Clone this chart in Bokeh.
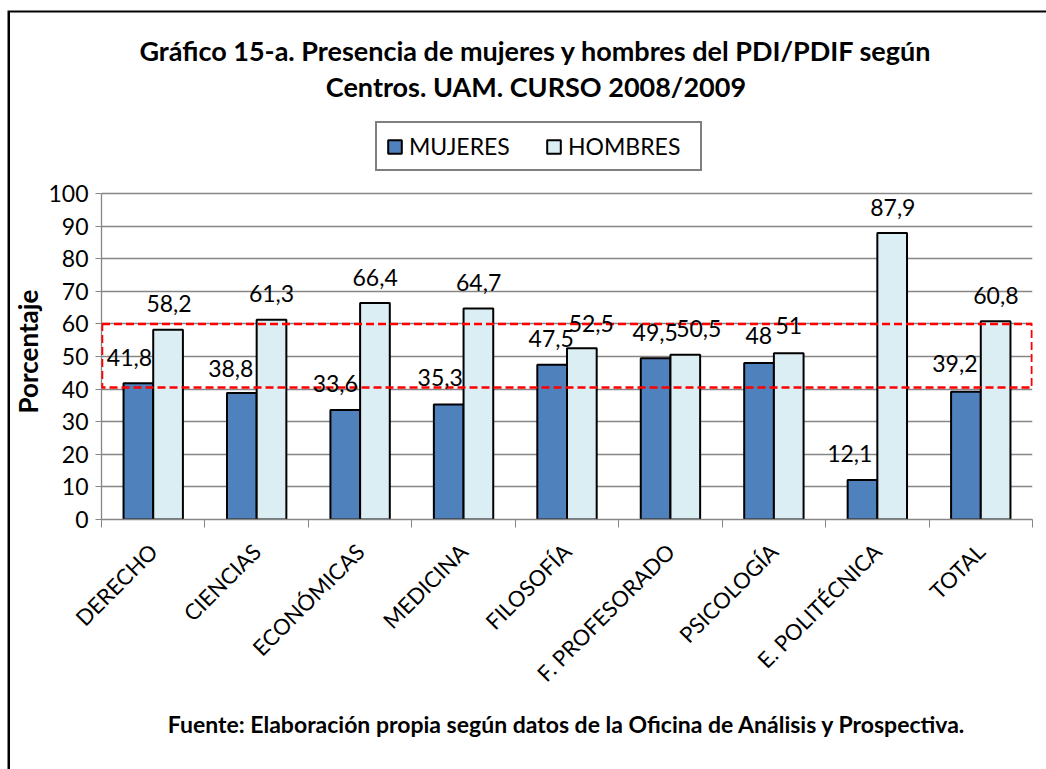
import math
from bokeh.plotting import figure
from bokeh.models import (Range1d, FixedTicker, LabelSet, Label, BoxAnnotation, Title,
                          ColumnDataSource, Legend, LegendItem)
from bokeh.core.properties import value
from bokeh.embed import file_html
from bokeh.resources import INLINE

# ---------------- data ----------------
categories = ["DERECHO", "CIENCIAS", "ECONÓMICAS", "MEDICINA", "FILOSOFÍA",
              "F. PROFESORADO", "PSICOLOGÍA", "E. POLITÉCNICA", "TOTAL"]
mujeres = [41.8, 38.8, 33.6, 35.3, 47.5, 49.5, 48, 12.1, 39.2]
hombres = [58.2, 61.3, 66.4, 64.7, 52.5, 50.5, 51, 87.9, 60.8]
y_ticks = list(range(0, 101, 10))
highlight_band = (40.5, 60.0)

title_lines = ["Gráfico 15-a. Presencia de mujeres y hombres del PDI/PDIF según",
               "Centros. UAM. CURSO 2008/2009"]
y_title = "Porcentaje"
source_note = "Fuente: Elaboración propia según datos de la Oficina de Análisis y Prospectiva."

# label placement (offsets from each bar, as hand-placed in the original)
m_lab_dx = [-0.23, -0.25, -0.24, -0.226, -0.153, -0.147, -0.146, -0.266, -0.25]
m_lab_y = [49.7, 46.3, 41.7, 43.7, 55.5, 57.5, 56.4, 20.2, 47.9]
h_lab_dx = [0.153, 0.144, 0.145, 0.146, 0.235, 0.274, 0.144, 0.15, 0.146]
h_lab_y = [66.3, 69.3, 74.3, 72.8, 60.0, 58.6, 59.5, 95.7, 68.7]

FONT = "Lato"
GREY = "#868686"
C_M = "#4f81bd"
C_H = "#dbeef4"
BAR_W = 0.287

# layout: the frame reaches the top of the canvas so that title and legend
# can live inside it; value 100 sits 326 px above the baseline (519 px down)
PLOT_PX = 326.0
FRAME_PX = 519.0
Y_TOP = 100 * FRAME_PX / PLOT_PX


def fmt(v):
    return ("%g" % v).replace(".", ",")


n = len(categories)
centers = [i + 0.5 for i in range(n)]

p = figure(width=1046, height=769, x_range=Range1d(0, n), y_range=Range1d(0, Y_TOP),
           output_backend="svg", toolbar_location=None,
           min_border_left=101, min_border_right=14, min_border_top=0,
           min_border_bottom=250,
           styles={"box-shadow": "inset 7.5px 10.5px 0 0 #fff, inset 10px 12.5px 0 0 #000"})
p.outline_line_color = None
p.background_fill_alpha = 0
p.border_fill_alpha = 0

src = ColumnDataSource(dict(
    xm=[c - BAR_W / 2 for c in centers], xh=[c + BAR_W / 2 for c in centers],
    m=mujeres, h=hombres))
r_m = p.vbar(x="xm", top="m", width=BAR_W, bottom=0, source=src,
             fill_color=C_M, line_color="black", line_width=2)
r_h = p.vbar(x="xh", top="h", width=BAR_W, bottom=0, source=src,
             fill_color=C_H, line_color="black", line_width=2)

# grid and axes
p.xgrid.grid_line_color = None
p.ygrid.grid_line_color = GREY
p.ygrid.grid_line_width = 1.3
p.yaxis.ticker = FixedTicker(ticks=y_ticks)
p.yaxis.bounds = (y_ticks[0], y_ticks[-1])
p.yaxis.axis_line_color = GREY
p.yaxis.axis_line_width = 1.3
p.yaxis.major_tick_line_color = GREY
p.yaxis.major_tick_out = 6
p.yaxis.major_tick_in = 0
p.yaxis.minor_tick_line_color = None
p.yaxis.major_label_text_font = FONT
p.yaxis.major_label_text_font_size = "23px"
p.yaxis.major_label_text_color = "black"
p.yaxis.major_label_standoff = 7

# y-axis title, placed alongside the 0-100 part of the axis
p.add_layout(Title(text=y_title, text_font=FONT, text_font_style="bold",
                   text_font_size="26px", text_color="black", align="left",
                   offset=106, standoff=3), "left")

p.xaxis.ticker = FixedTicker(ticks=centers, minor_ticks=list(range(n + 1)))
p.xaxis.major_label_overrides = {c: name for c, name in zip(centers, categories)}
p.xaxis.major_tick_line_color = None
p.xaxis.minor_tick_line_color = GREY
p.xaxis.minor_tick_out = 8
p.xaxis.minor_tick_in = 0
p.xaxis.axis_line_color = GREY
p.xaxis.axis_line_width = 1.3
p.xaxis.major_label_orientation = math.pi / 4
p.xaxis.major_label_text_font = FONT
p.xaxis.major_label_text_font_size = "22px"
p.xaxis.major_label_text_color = "black"
p.xaxis.major_label_standoff = 20

# highlight rectangle
p.add_layout(BoxAnnotation(left=0.005, right=n - 0.005, bottom=highlight_band[0],
                           top=highlight_band[1], fill_color=None, fill_alpha=0,
                           line_color="#ff0000", line_alpha=1,
                           line_dash="8 4", line_width=2.5))

# data labels
lab_src = ColumnDataSource(dict(
    x=[c + d for c, d in zip(centers, m_lab_dx)] + [c + d for c, d in zip(centers, h_lab_dx)],
    y=m_lab_y + h_lab_y,
    t=[fmt(v) for v in mujeres] + [fmt(v) for v in hombres]))
p.add_layout(LabelSet(x="x", y="y", text="t", source=lab_src,
                      text_font=value(FONT), text_font_size=value("23px"),
                      text_align="center", text_baseline="middle", text_color="black"))

# legend
legend = Legend(items=[LegendItem(label="MUJERES", renderers=[r_m]),
                       LegendItem(label="HOMBRES", renderers=[r_h])],
                orientation="horizontal", location=(274, 348),
                border_line_color="black", border_line_width=2,
                background_fill_color="white", background_fill_alpha=1,
                padding=9, margin=0, spacing=13,
                glyph_width=17, glyph_height=17, label_standoff=6,
                label_width=123,
                label_text_font=FONT, label_text_font_size="23px",
                label_text_color="black")
p.add_layout(legend, "center")

# title (two lines, inside the tall frame)
for txt, yv in zip(title_lines, (143.9, 132.8)):
    p.add_layout(Label(x=4.2, y=yv, text=txt, text_font=FONT, text_font_style="bold",
                       text_font_size="27px", text_color="black",
                       text_align="center", text_baseline="middle"))

# source note below the axis
p.add_layout(Title(text=source_note, text_font=FONT, text_font_style="bold",
                   text_font_size="23px", text_color="black", align="center",
                   standoff=16), "below")

open("out.html", "w").write(file_html(p, INLINE))
